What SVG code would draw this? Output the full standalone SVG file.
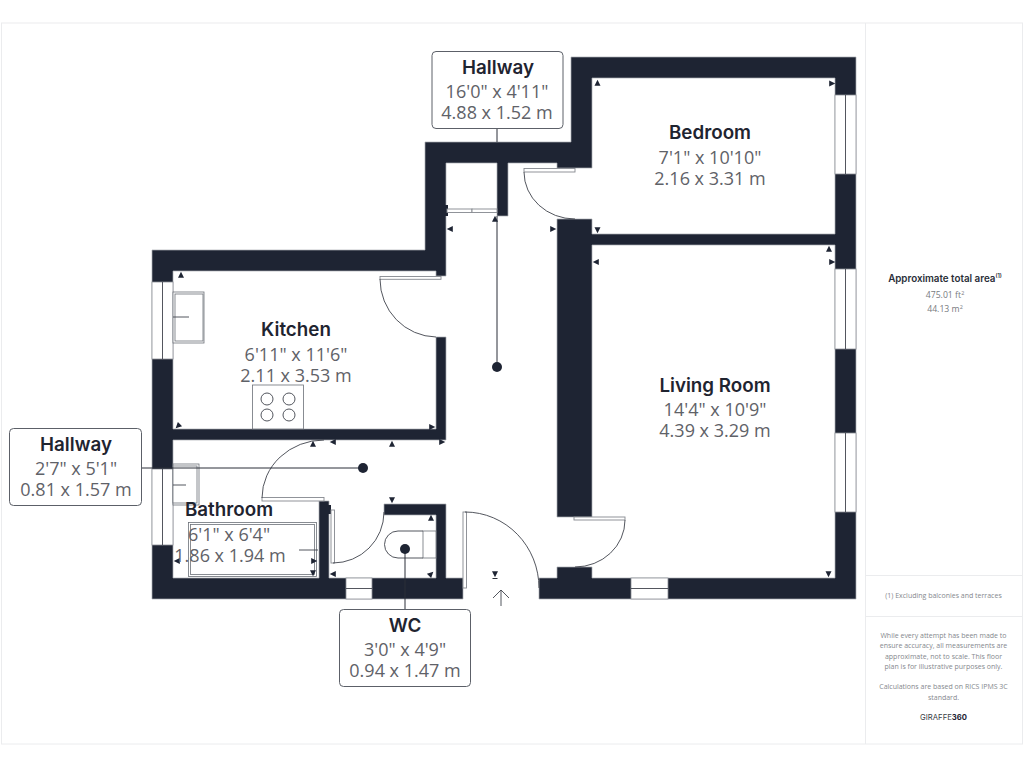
<svg xmlns="http://www.w3.org/2000/svg" width="1024" height="768" viewBox="0 0 1024 768">
<style>
text{text-anchor:middle}
.name{font:600 18.800px Inter,"Liberation Sans",sans-serif;fill:#1f2430}
.dim{font:400 18px "Open Sans","Liberation Sans",sans-serif;fill:#5f6268}
.box{fill:#fff;stroke:#5c6068;stroke-width:1}
.wall{fill:#1e2433;stroke:#a9acb2;stroke-width:.7}
.win{fill:#fff;stroke:#8c8f96;stroke-width:.8}
.thin{fill:none;stroke:#3f434c;stroke-width:.9}
.leaf{fill:#fff;stroke:#85888f;stroke-width:.9}
.fix{fill:#fff;stroke:#6c7078;stroke-width:.8}
.lead{fill:none;stroke:#2a2e38;stroke-width:1}
.dot{fill:#1e2433}
.rule{stroke:#ebecee;stroke-width:1;fill:none}
.p1{font:600 9.800px Inter,"Liberation Sans",sans-serif;fill:#2a2e38}
.p2{font:400 8.700px "Open Sans","Liberation Sans",sans-serif;fill:#777a80}
.p3{font:400 7px "Open Sans","Liberation Sans",sans-serif;fill:#85888e}
</style>
<defs><path id="t" d="M-3 2.800L0-3.300L3 2.800Z" fill="#1e2433"/></defs>
<rect width="1024" height="768" fill="#fff"/>
<g id="panel">
<rect class="rule" x="1.500" y="23" width="1021" height="721"/>
<path class="rule" d="M865.500 23V744M866 575.500H1022M866 616.500H1022"/>
<text class="p1" x="945" y="282">Approximate total area<tspan font-size="5.500" dy="-4">(1)</tspan></text>
<text class="p2" x="945" y="298">475.01 ft<tspan font-size="5.500" dy="-3">2</tspan></text>
<text class="p2" x="945" y="312">44.13 m<tspan font-size="5.500" dy="-3">2</tspan></text>
<text class="p3" x="943.500" y="598">(1) Excluding balconies and terraces</text>
<text class="p3" x="943.500" y="638">While every attempt has been made to</text>
<text class="p3" x="943.500" y="648">ensure accuracy, all measurements are</text>
<text class="p3" x="943.500" y="659">approximate, not to scale. This floor</text>
<text class="p3" x="943.500" y="669">plan is for illustrative purposes only.</text>
<text class="p3" x="943.500" y="689">Calculations are based on RICS IPMS 3C</text>
<text class="p3" x="943.500" y="700">standard.</text>
<text x="943.500" y="720" style="font:400 7.700px Inter,'Liberation Sans',sans-serif;fill:#3a3d45">GIRAFFE<tspan font-weight="700" fill="#1e2433">360</tspan></text>
</g>
<g id="walls">
<path class="wall" d="M539 599H856V57H571V142H425V250H152V599H463V578H446V504H384V515H436V578H329V501H319V578H173V440H446V337H436V429H173V271H436V276H446V163H497V216H508V163H557V168H592V78H835V234H592V219H557V517H592V245H835V578H592V567H557V578H539Z"/>
<path fill="#1e2433" d="M445 205H448V216H445ZM328 505H331V514H328Z"/>
</g>
<g id="windows">
<rect class="win" x="152" y="282" width="21" height="77"/><path class="thin" d="M162.500 282V359"/>
<rect class="win" x="152" y="469" width="21" height="76"/><path class="thin" d="M162.500 469V545"/>
<rect class="win" x="835" y="95" width="21" height="79"/><path class="thin" d="M845.500 95V174"/>
<rect class="win" x="835" y="269" width="21" height="80"/><path class="thin" d="M845.500 269V349"/>
<rect class="win" x="835" y="433" width="21" height="79"/><path class="thin" d="M845.500 433V512"/>
<rect class="win" x="346" y="578" width="26" height="21"/><path class="thin" d="M346 588.500H372"/>
<rect class="win" x="631" y="578" width="37" height="21"/><path class="thin" d="M631 588.500H668"/>
</g>
<g id="doors">
<rect class="leaf" x="524" y="168.500" width="51" height="3.500"/><path class="thin" d="M524 172A51 47 0 0 0 575 219"/>
<rect class="leaf" x="380" y="276.500" width="61" height="2.800"/><path class="thin" d="M380 279A57 58 0 0 0 436 337"/>
<rect class="leaf" x="262" y="497.500" width="62" height="3.500"/><path class="thin" d="M262 498A62 58 0 0 1 324 440"/>
<rect class="leaf" x="331" y="510" width="3.500" height="53"/><path class="thin" d="M333 563A51 51 0 0 0 384 512"/>
<rect class="leaf" x="463" y="512" width="3.500" height="76"/><path class="thin" d="M465 512A74 76 0 0 1 539 588"/>
<rect class="leaf" x="574" y="517" width="51" height="3"/><path class="thin" d="M625 520A50 47 0 0 1 575 567"/>
<rect class="leaf" x="447" y="209" width="25" height="3.500"/><rect class="leaf" x="472" y="209" width="25" height="3.500"/>
</g>
<g id="fixtures">
<rect class="fix" x="173" y="292" width="31" height="51"/><rect class="fix" x="175" y="294" width="28" height="47"/><path class="thin" d="M173 317H189"/>
<rect class="fix" x="252.500" y="385" width="51" height="44"/>
<g class="thin"><circle cx="267" cy="399" r="6"/><circle cx="289" cy="399" r="6"/><circle cx="267" cy="415" r="6"/><circle cx="289" cy="415" r="6"/></g>
<rect class="fix" x="173" y="464" width="26" height="41"/><rect class="fix" x="173" y="466" width="24" height="37"/><path class="thin" d="M173 485H186"/>
<rect class="fix" x="188.500" y="522.500" width="128" height="54"/><rect class="fix" x="190.500" y="524.500" width="124" height="50"/><path class="thin" d="M299 550H318"/>
<rect class="fix" x="423" y="531" width="13" height="27"/><path class="thin" d="M423 531H398A13.500 13.500 0 0 0 398 558H423"/>
</g>
<g id="connectors">
<path class="lead" d="M497 128V142M497 216V367M142 468H363M405 549V609"/>
<circle class="dot" cx="497" cy="367" r="5"/><circle class="dot" cx="363" cy="468" r="5"/><circle class="dot" cx="405" cy="549" r="5"/>
</g>
<g id="marks">
<use href="#t" transform="translate(597.500 83)"/>
<use href="#t" transform="translate(832 83.500) rotate(90)"/>
<use href="#t" transform="translate(597.500 230) rotate(180)"/>
<use href="#t" transform="translate(450 229) rotate(-90)"/>
<use href="#t" transform="translate(553 229) rotate(90)"/>
<use href="#t" transform="translate(495 219)"/>
<use href="#t" transform="translate(829 249)"/>
<use href="#t" transform="translate(596 262) rotate(-90)"/>
<use href="#t" transform="translate(832 262) rotate(90)"/>
<use href="#t" transform="translate(828.500 574) rotate(180)"/>
<use href="#t" transform="translate(181 275)"/>
<use href="#t" transform="translate(178 426) rotate(-135)"/>
<use href="#t" transform="translate(432 427) rotate(90)"/>
<use href="#t" transform="translate(313 444)"/>
<use href="#t" transform="translate(333 442) rotate(-90)"/>
<use href="#t" transform="translate(392 444)"/>
<use href="#t" transform="translate(442 442) rotate(90)"/>
<use href="#t" transform="translate(392 500) rotate(180)"/>
<use href="#t" transform="translate(431 518)"/>
<use href="#t" transform="translate(333 574) rotate(-90)"/>
<use href="#t" transform="translate(431 574) rotate(45)"/>
<use href="#t" transform="translate(177 561) rotate(-90)"/>
<use href="#t" transform="translate(314 561) rotate(90)"/>
<use href="#t" transform="translate(313 573) rotate(180)"/>
<use href="#t" transform="translate(495 574) rotate(180)"/>
<path class="lead" d="M492.500 578.500H497.500"/>
<path class="thin" d="M501 606V590M493 598L501 590L509 598"/>
</g>
<g id="room-hallway-top">
<rect class="box" x="432" y="51.500" width="131" height="77" rx="4"/>
<text class="name" x="498" y="74">Hallway</text>
<text class="dim" x="497" y="97.500">16'0" x 4'11"</text>
<text class="dim" x="497" y="118.500">4.88 x 1.52 m</text>
</g>
<g id="room-bedroom">
<text class="name" x="710" y="139">Bedroom</text>
<text class="dim" x="710" y="163.500">7'1" x 10'10"</text>
<text class="dim" x="710" y="184.500">2.16 x 3.31 m</text>
</g>
<g id="room-kitchen">
<text class="name" x="296" y="336">Kitchen</text>
<text class="dim" x="296" y="360.500">6'11" x 11'6"</text>
<text class="dim" x="296" y="381.500">2.11 x 3.53 m</text>
</g>
<g id="room-living">
<text class="name" x="715" y="391.500">Living Room</text>
<text class="dim" x="715" y="415.500">14'4" x 10'9"</text>
<text class="dim" x="715" y="436.500">4.39 x 3.29 m</text>
</g>
<g id="room-hallway-left">
<rect class="box" x="9.500" y="428.500" width="132" height="77" rx="4"/>
<text class="name" x="76" y="451">Hallway</text>
<text class="dim" x="76" y="474.500">2'7" x 5'1"</text>
<text class="dim" x="76" y="495.500">0.81 x 1.57 m</text>
</g>
<g id="room-bathroom">
<text class="name" x="229" y="516">Bathroom</text>
<text class="dim" x="229" y="540.500">6'1" x 6'4"</text>
<text class="dim" x="230" y="561.500">1.86 x 1.94 m</text>
</g>
<g id="room-wc">
<rect class="box" x="339.500" y="609.500" width="131" height="77" rx="4"/>
<text class="name" x="405" y="632">WC</text>
<text class="dim" x="405" y="655.500">3'0" x 4'9"</text>
<text class="dim" x="405" y="676.500">0.94 x 1.47 m</text>
</g>
</svg>
